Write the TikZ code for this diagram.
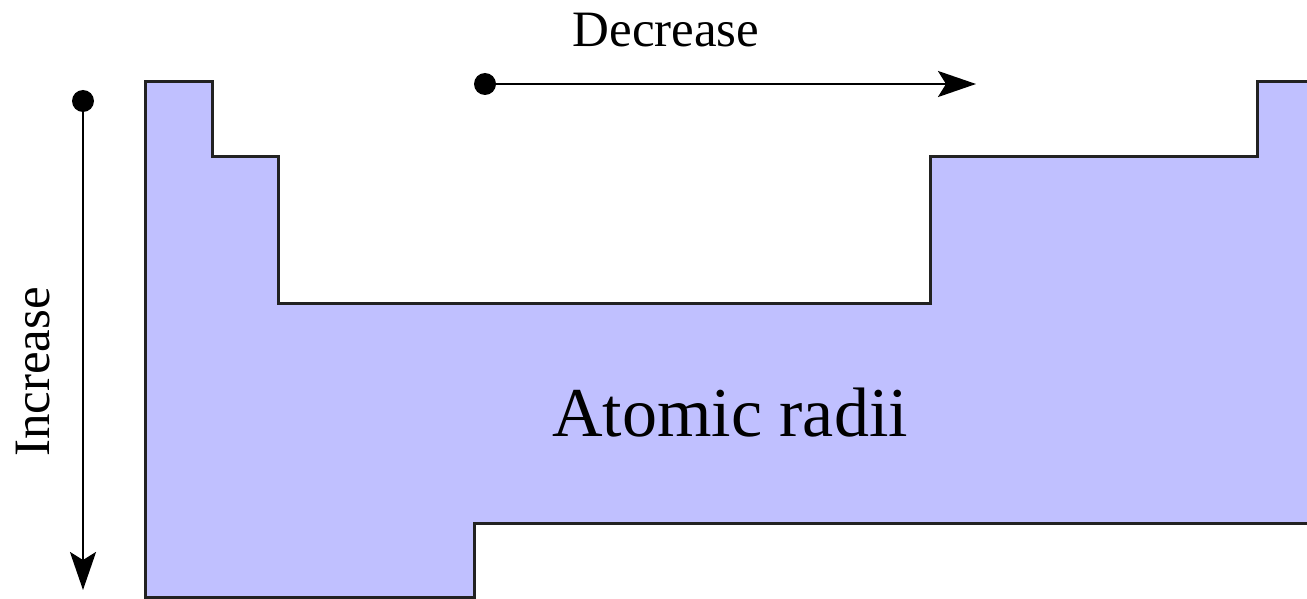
\documentclass[tikz,border=0pt]{standalone}
\usepackage{fontspec}
\setmainfont{Liberation Serif}
\usetikzlibrary{arrows.meta}
\definecolor{tablefill}{RGB}{192,192,255}
\definecolor{outline}{RGB}{34,34,34}
\tikzset{
  tableshape/.style={fill=tablefill, draw=outline, line width=3pt, line join=miter},
  dotnode/.style={circle, fill=black, inner sep=0pt, minimum size=22pt},
  trendarrow/.style={line width=2.5pt, -{Stealth[length=38pt, width=26pt, inset=8pt]}},
  labeltext/.style={font=\fontsize{51}{51}\selectfont, inner sep=0pt, anchor=base},
  bigtext/.style={font=\fontsize{70}{70}\selectfont, inner sep=0pt, anchor=base}
}
\begin{document}
\begin{tikzpicture}[x=1pt, y=-1pt]
\useasboundingbox (0,0) rectangle (1307,599);
\clip (0,0) rectangle (1307,599);
\draw[tableshape] (145,82) -- (212,82) -- (212,157) -- (278,157) -- (278,303)
  -- (930,303) -- (930,157) -- (1257,157) -- (1257,82) -- (1330,82)
  -- (1330,523) -- (474,523) -- (474,597) -- (145,597) -- cycle;
\node[bigtext] (radii) at (730,436) {Atomic radii};
\node[dotnode] (vdot) at (83,101) {};
\coordinate (vend) at (83,590);
\draw[trendarrow] (vdot.center) -- (vend);
\node[dotnode] (hdot) at (485,84) {};
\coordinate (hend) at (976,84);
\draw[trendarrow] (hdot.center) -- (hend);
\node[labeltext] (dec) at (666,47) {Decrease};
\node[labeltext, rotate=90] (inc) at (49,372) {Increase};
\end{tikzpicture}
\end{document}
